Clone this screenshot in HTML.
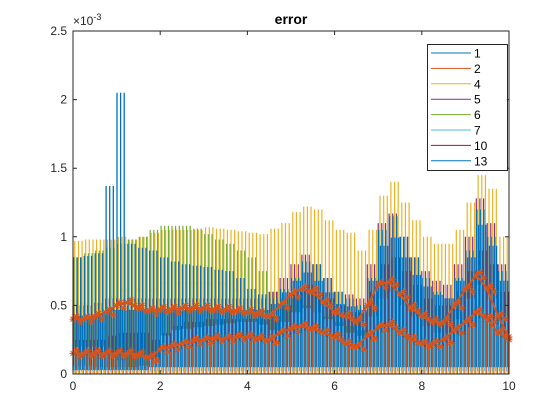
<!DOCTYPE html>
<html><head><meta charset="utf-8"><style>
body{margin:0;background:#fff;}
svg{display:block;font-family:"Liberation Sans",sans-serif;}
</style></head><body>
<svg id="chart" width="560" height="420">
<rect width="560" height="420" fill="#fff"/>
<rect x="73" y="31" width="436" height="343" fill="#fff"/>
<g id="plot"></g>
<rect x="73" y="31" width="436" height="343" fill="none" stroke="#262626" stroke-width="1"/>
<g id="ticks"></g>
<text x="291" y="24" text-anchor="middle" font-size="14" font-weight="bold" fill="#000">error</text>
<text x="73" y="25" font-size="12" fill="#262626">×10<tspan dy="-5" font-size="9">-3</tspan></text>
<g id="legend"></g>
</svg>
<script>
const xs = [0,0.25,0.5,0.75,1,1.25,1.5,1.75,2,2.25,2.5,2.75,3,3.25,3.5,3.75,4,4.25,4.5,4.75,5,5.25,5.5,5.75,6,6.25,6.5,6.75,7,7.25,7.5,7.75,8,8.25,8.5,8.75,9,9.25,9.5,9.75,10];
const yellowHi = [0.97,0.98,0.98,0.98,1.0,0.98,1.0,1.03,1.05,1.05,1.05,1.05,1.07,1.06,1.05,1.04,1.03,1.02,1.06,1.1,1.18,1.22,1.2,1.12,1.05,1.03,0.9,1.05,1.3,1.4,1.25,1.12,1.0,0.95,0.95,1.05,1.25,1.45,1.35,1.0,0.9];
const yellowLo = [0.5,0.5,0.5,0.55,0.6,0.6,0.6,0.6,0.65,0.65,0.65,0.65,0.65,0.65,0.6,0.6,0.55,0.5,0.45,0.5,0.55,0.6,0.55,0.5,0.45,0.4,0.35,0.45,0.6,0.65,0.55,0.5,0.4,0.35,0.35,0.45,0.6,0.7,0.6,0.45,0.4];
const greenHi = [0.85,0.88,0.9,0.92,0.95,0.98,1.0,1.05,1.08,1.08,1.08,1.06,1.02,0.98,0.95,0.9,0.85,0.75,0.6,0.55,0.55,0.5,0.45,0.42,0.38,0.35,0.32,0.35,0.4,0.4,0.38,0.35,0.3,0.28,0.28,0.3,0.35,0.4,0.38,0.3,0.28];
const greenLo = [0.2,0.2,0.2,0.15,0.1,0.05,0.05,0.1,0.2,0.25,0.25,0.25,0.25,0.25,0.25,0.25,0.25,0.2,0.15,0.1,0.1,0.1,0.1,0.1,0.1,0.05,0.05,0.05,0.1,0.1,0.1,0.05,0.05,0.05,0.05,0.05,0.1,0.1,0.1,0.05,0.05];
const purpleHi = [0.5,0.5,0.52,0.55,0.55,0.55,0.55,0.55,0.55,0.55,0.55,0.55,0.55,0.55,0.55,0.55,0.55,0.55,0.6,0.7,0.8,0.87,0.8,0.7,0.6,0.58,0.55,0.8,1.1,1.17,1.0,0.85,0.75,0.68,0.65,0.8,1.0,1.28,1.1,0.8,0.6];
const blueHi = [0.85,0.86,0.88,1.37,2.05,0.95,0.92,0.9,0.85,0.82,0.8,0.79,0.78,0.76,0.75,0.7,0.62,0.58,0.55,0.62,0.7,0.82,0.8,0.7,0.6,0.55,0.5,0.7,1.05,1.15,1.0,0.85,0.7,0.6,0.55,0.7,0.9,1.2,1.0,0.75,0.6];
const blueLo = [0.03,0.03,0.03,0.03,0.03,0.03,0.03,0.05,0.05,0.05,0.05,0.05,0.05,0.05,0.05,0.05,0.05,0.05,0.05,0.05,0.05,0.05,0.05,0.05,0.05,0.05,0.05,0.05,0.05,0.05,0.05,0.05,0.05,0.05,0.05,0.05,0.05,0.05,0.05,0.05,0.05];
const lightHi = [0.06,0.06,0.05,0.05,0.05,0.05,0.06,0.12,0.28,0.32,0.33,0.34,0.35,0.36,0.37,0.38,0.38,0.36,0.32,0.38,0.45,0.48,0.45,0.4,0.35,0.3,0.28,0.42,0.55,0.6,0.5,0.42,0.35,0.3,0.3,0.4,0.55,0.65,0.55,0.4,0.3];
const redHi = [0.25,0.25,0.25,0.28,0.3,0.3,0.3,0.25,0.3,0.35,0.38,0.38,0.4,0.4,0.4,0.4,0.4,0.4,0.42,0.5,0.6,0.65,0.6,0.55,0.5,0.45,0.45,0.6,0.8,0.85,0.75,0.65,0.55,0.5,0.5,0.6,0.75,0.9,0.8,0.6,0.5];
const orangeA = [0.4,0.4,0.42,0.45,0.5,0.52,0.48,0.46,0.47,0.47,0.48,0.48,0.48,0.47,0.47,0.46,0.45,0.44,0.42,0.5,0.58,0.62,0.6,0.52,0.45,0.42,0.38,0.5,0.65,0.67,0.58,0.48,0.42,0.38,0.38,0.5,0.62,0.72,0.62,0.42,0.27];
const orangeB = [0.15,0.15,0.15,0.15,0.15,0.15,0.14,0.12,0.18,0.2,0.22,0.24,0.25,0.26,0.26,0.27,0.27,0.26,0.25,0.3,0.33,0.35,0.33,0.3,0.27,0.22,0.2,0.28,0.34,0.36,0.3,0.25,0.22,0.22,0.25,0.32,0.38,0.45,0.4,0.3,0.25];
const yTicks = [0,0.5,1,1.5,2,2.5];
const yTickLabels = ["0","0.5","1","1.5","2","2.5"];
const xTicks = [0,2,4,6,8,10];
const legendLabels = ["1","2","4","5","6","7","10","13"];

const NS="http://www.w3.org/2000/svg";
const X0=73,X1=509,Y0=374,Y1=31;
function sx(v){return X0+(v-0)/(10-0)*(X1-X0);}
function sy(v){return Y0-(v-0)/(2.5-0)*(Y0-Y1);}
const plot=document.getElementById('plot');
const step=(xs[1]-xs[0]);
const SUB=3;
function spikes(hi,lo,color,name,off,w){
  let d="";
  for(let i=0;i<xs.length;i++){
    const l = Array.isArray(lo)?lo[i]:lo;
    for(let k=0;k<SUB;k++){
      const xa=xs[i]+(k+off)*step/SUB;
      if(xa>10) break;
      const x=sx(xa).toFixed(1);
      d+="M"+x+","+sy(l).toFixed(1)+"V"+sy(hi[i]).toFixed(1);
    }
  }
  const p=document.createElementNS(NS,'path');
  p.setAttribute('d',d);p.setAttribute('fill','none');p.setAttribute('stroke',color);p.setAttribute('stroke-width',w||1.2);
  
  
  plot.appendChild(p);
}
spikes(yellowHi,yellowLo,'#EDB120','series-4',0.5);
spikes(yellowHi.map((v,i)=>yellowLo[i]+0.02),0.0,'#EDB120','series-4-base',0.5);
spikes(greenHi,greenLo,'#77AC30','series-6',0.25);
spikes(purpleHi,blueLo,'#7E2F8E','series-5',0.0);
spikes(redHi,blueLo,'#A2142F','series-10',0.75,1);
spikes(blueHi,blueLo,'#0072BD','series-13',0.1,1.3);
spikes(purpleHi.map(v=>v*0.85),blueLo,'#0072BD','series-1',0.6,1.3);
spikes(lightHi,0.02,'#4DBEEE','series-7',0.35,1.2);
spikes(orangeB.map(v=>v*0.9),0.0,'#D95319','series-2-spikes',0.85,1);
function markerLine(arr,name){
  let d="";
  for(let i=0;i<xs.length;i++) d+=(i?"L":"M")+sx(xs[i]).toFixed(1)+","+sy(arr[i]).toFixed(1);
  const p=document.createElementNS(NS,'path');
  p.setAttribute('d',d);p.setAttribute('fill','none');p.setAttribute('stroke','#D95319');p.setAttribute('stroke-width',2);
  
  
  plot.appendChild(p);
  let m="";
  for(let i=0;i<xs.length;i++){
    for(let k=0;k<3;k++){
      const xv=xs[i]+k*step/3; if(xv>10) break;
      const yv=arr[i]+(k===1?0.02:(k===2?-0.02:0));
      const cx=sx(xv),cy=sy(yv),r=3.5;
      m+=`M${cx-r},${cy}h${2*r}M${cx},${cy-r}v${2*r}M${cx-2.5},${cy-2.5}l5,5M${cx-2.5},${cy+2.5}l5,-5`;
    }
  }
  const q=document.createElementNS(NS,'path');
  q.setAttribute('d',m);q.setAttribute('stroke','#D95319');q.setAttribute('stroke-width',1);
  
  
  plot.appendChild(q);
}
markerLine(orangeA,'series-2-upper');
markerLine(orangeB,'series-2-lower');

const tk=document.getElementById('ticks');
yTicks.forEach((v,i)=>{
  const y=sy(v);
  const l=document.createElementNS(NS,'path');
  l.setAttribute('d',`M${X0},${y}h4M${X1},${y}h-4`);l.setAttribute('stroke','#262626');
  
  
  tk.appendChild(l);
  const t=document.createElementNS(NS,'text');
  t.setAttribute('x',X0-6);t.setAttribute('y',y+4);t.setAttribute('text-anchor','end');t.setAttribute('font-size','12');t.setAttribute('fill','#262626');
  t.textContent=yTickLabels[i];
  
  
  tk.appendChild(t);
});
xTicks.forEach(v=>{
  const x=sx(v);
  const l=document.createElementNS(NS,'path');
  l.setAttribute('d',`M${x},${Y0}v-4M${x},${Y1}v4`);l.setAttribute('stroke','#262626');
  
  
  tk.appendChild(l);
  const t=document.createElementNS(NS,'text');
  t.setAttribute('x',x);t.setAttribute('y',Y0+16);t.setAttribute('text-anchor','middle');t.setAttribute('font-size','12');t.setAttribute('fill','#262626');
  t.textContent=String(v);
  
  
  tk.appendChild(t);
});
const lg=document.getElementById('legend');
const lcol=['#0072BD','#D95319','#EDB120','#7E2F8E','#77AC30','#4DBEEE','#A2142F','#0072BD'];
const box=document.createElementNS(NS,'rect');
box.setAttribute('x',427.5);box.setAttribute('y',44.5);box.setAttribute('width',80);box.setAttribute('height',126);
box.setAttribute('fill','#fff');box.setAttribute('stroke','#262626');


lg.appendChild(box);
legendLabels.forEach((s,i)=>{
  const y=53+i*15.4;
  const l=document.createElementNS(NS,'line');
  l.setAttribute('x1',431);l.setAttribute('x2',471);l.setAttribute('y1',y);l.setAttribute('y2',y);l.setAttribute('stroke',lcol[i]);
  
  
  lg.appendChild(l);
  const t=document.createElementNS(NS,'text');
  t.setAttribute('x',474);t.setAttribute('y',y+4.5);t.setAttribute('font-size','12');t.setAttribute('fill','#000');
  t.textContent=s;
  
  
  lg.appendChild(t);
});
</script>
</body></html>
